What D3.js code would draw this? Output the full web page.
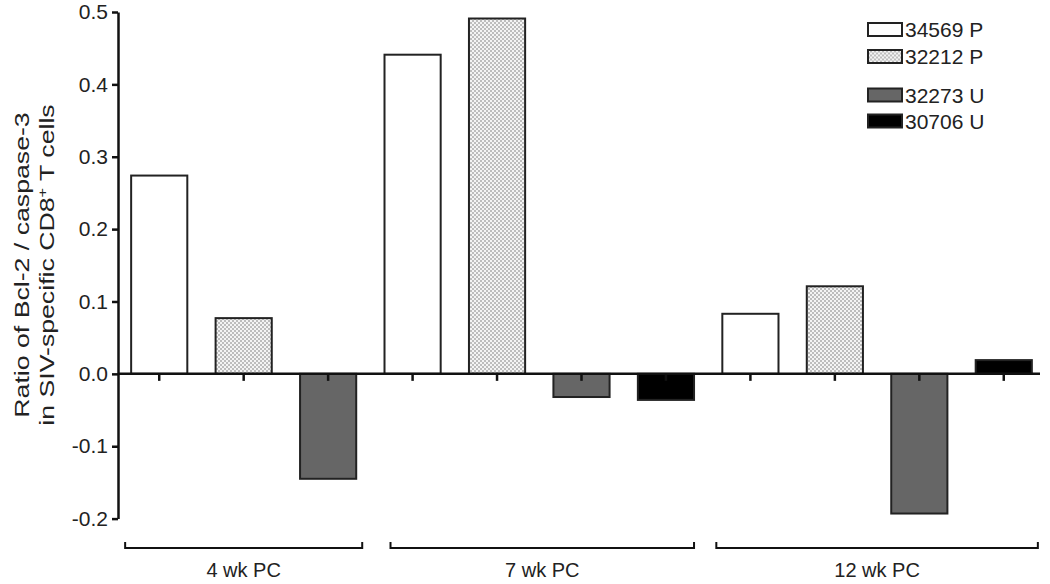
<!DOCTYPE html>
<html>
	<head>
		<meta charset="utf-8">
		<title>Bcl-2 / caspase-3</title>
		<script src="https://cdn.jsdelivr.net/npm/d3@7/dist/d3.min.js"></script>
		<style>
			body { margin: 0; background: #fff; }
			text { font-family: "Liberation Sans", Arial, sans-serif; fill: #222; }
		</style>
	</head>
	<body>

		<script>

		// data
		var timepoints = ["4 wk PC", "7 wk PC", "12 wk PC"];
		var animals = ["34569 P", "32212 P", "32273 U", "30706 U"];
		var v34569 = [0.274, 0.441, 0.083];
		var v32212 = [0.077, 0.491, 0.121];
		var v32273 = [-0.145, -0.032, -0.193];
		var v30706 = [null, -0.036, 0.019];   // no bar at 4 wk
		var yTicks = [-0.2, -0.1, 0.0, 0.1, 0.2, 0.3, 0.4, 0.5];

		var fills = ["#ffffff", "url(#stipple)", "#666666", "#000000"];
		var series = [v34569, v32212, v32273, v30706];

		var W = 1050, H = 584;
		var svg = d3.select("body").append("svg")
			.attr("width", W)
			.attr("height", H);

		// stippled fill
		var pat = svg.append("defs").append("pattern")
			.attr("id", "stipple")
			.attr("patternUnits", "userSpaceOnUse")
			.attr("width", 4).attr("height", 4);
		pat.append("rect").attr("width", 4).attr("height", 4).attr("fill", "#f4f4f4");
		pat.append("rect").attr("x", 0).attr("y", 0).attr("width", 2).attr("height", 2).attr("fill", "#bdbdbd");
		pat.append("rect").attr("x", 2).attr("y", 2).attr("width", 2).attr("height", 2).attr("fill", "#bdbdbd");

		// one slot per bar that exists
		var slots = [];
		timepoints.forEach(function(t, ti) {
			series.forEach(function(s, si) {
				if (s[ti] !== null) slots.push({key: t + "|" + animals[si], t: ti, s: si, v: s[ti]});
			});
		});

		var x = d3.scaleBand()
			.domain(slots.map(function(d) { return d.key; }))
			.range([117, 1046])
			.paddingInner(0.335)
			.paddingOuter(0.1675);

		var y = d3.scaleLinear()
			.domain([-0.2, 0.5])
			.range([518.6, 12]);

		// bars
		svg.selectAll("rect.bar")
			.data(slots)
			.enter()
				.append("rect")
				.attr("class", "bar")
				.attr("x", function(d) { return x(d.key); })
				.attr("width", x.bandwidth())
				.attr("y", function(d) { return y(Math.max(0, d.v)); })
				.attr("height", function(d) { return Math.abs(y(d.v) - y(0)); })
				.attr("fill", function(d) { return fills[d.s]; })
				.attr("stroke", "#222")
				.attr("stroke-width", 2);

		// y axis
		var yAxis = d3.axisLeft(y)
			.tickValues(yTicks)
			.tickSize(6)
			.tickSizeOuter(0)
			.tickPadding(4)
			.tickFormat(function(d) { return d.toFixed(1); });

		var ga = svg.append("g")
			.attr("transform", "translate(118,0)")
			.call(yAxis);
		ga.select(".domain").attr("stroke", "#111").attr("stroke-width", 2.5);
		ga.selectAll(".tick line").attr("stroke", "#111").attr("stroke-width", 2.5);
		ga.selectAll(".tick text")
			.style("font-size", "21px")
			.attr("fill", "#222");

		// zero line with ticks at each bar
		svg.append("line")
			.attr("x1", 118).attr("x2", 1040)
			.attr("y1", y(0)).attr("y2", y(0))
			.attr("stroke", "#111").attr("stroke-width", 2.5);

		svg.selectAll("line.xt")
			.data(slots)
			.enter()
				.append("line")
				.attr("class", "xt")
				.attr("x1", function(d) { return x(d.key) + x.bandwidth() / 2; })
				.attr("x2", function(d) { return x(d.key) + x.bandwidth() / 2; })
				.attr("y1", y(0)).attr("y2", y(0) + 7)
				.attr("stroke", "#111").attr("stroke-width", 2.5);

		// group brackets
		var brY = 548;
		timepoints.forEach(function(t, ti) {
			var g = slots.filter(function(d) { return d.t == ti; });
			var x0 = x(g[0].key) - (ti == 1 ? -6 : 6);
			var x1 = x(g[g.length - 1].key) + x.bandwidth() + (ti == 1 ? 0 : 6);
			svg.append("path")
				.attr("d", "M" + x0 + "," + (brY - 6) + "V" + brY + "H" + x1 + "V" + (brY - 6))
				.attr("fill", "none")
				.attr("stroke", "#111")
				.attr("stroke-width", 2);
			svg.append("text")
				.attr("x", (x0 + x1) / 2)
				.attr("y", 577)
				.attr("text-anchor", "middle")
				.style("font-size", "20px")
				.text(t);
		});

		// y title (stretched along its length as in the figure)
		var title = svg.append("text")
			.attr("transform", "translate(29,265) rotate(-90) scale(1.27,1)")
			.attr("text-anchor", "middle")
			.style("font-size", "21px");
		title.append("tspan").attr("x", 0).attr("dy", 0).text("Ratio of Bcl-2 / caspase-3");
		var l2 = title.append("tspan").attr("x", 0).attr("dy", 25);
		l2.append("tspan").text("in SIV-specific CD8");
		l2.append("tspan").attr("dy", -7).style("font-size", "13px").text("+");
		l2.append("tspan").attr("dy", 7).text(" T cells");

		// legend
		var legY = [29.5, 56.5, 95, 121];
		var leg = svg.selectAll("g.leg")
			.data(animals)
			.enter()
				.append("g")
				.attr("class", "leg")
				.attr("transform", function(d, i) { return "translate(868," + legY[i] + ")"; });
		leg.append("rect")
			.attr("x", 0).attr("y", -6.5)
			.attr("width", 34).attr("height", 13)
			.attr("fill", function(d, i) { return fills[i]; })
			.attr("stroke", "#222")
			.attr("stroke-width", 2);
		leg.append("text")
			.attr("x", 37)
			.attr("y", 7.5)
			.style("font-size", "21px")
			.text(function(d) { return d; });

		</script>

	</body>
</html>
